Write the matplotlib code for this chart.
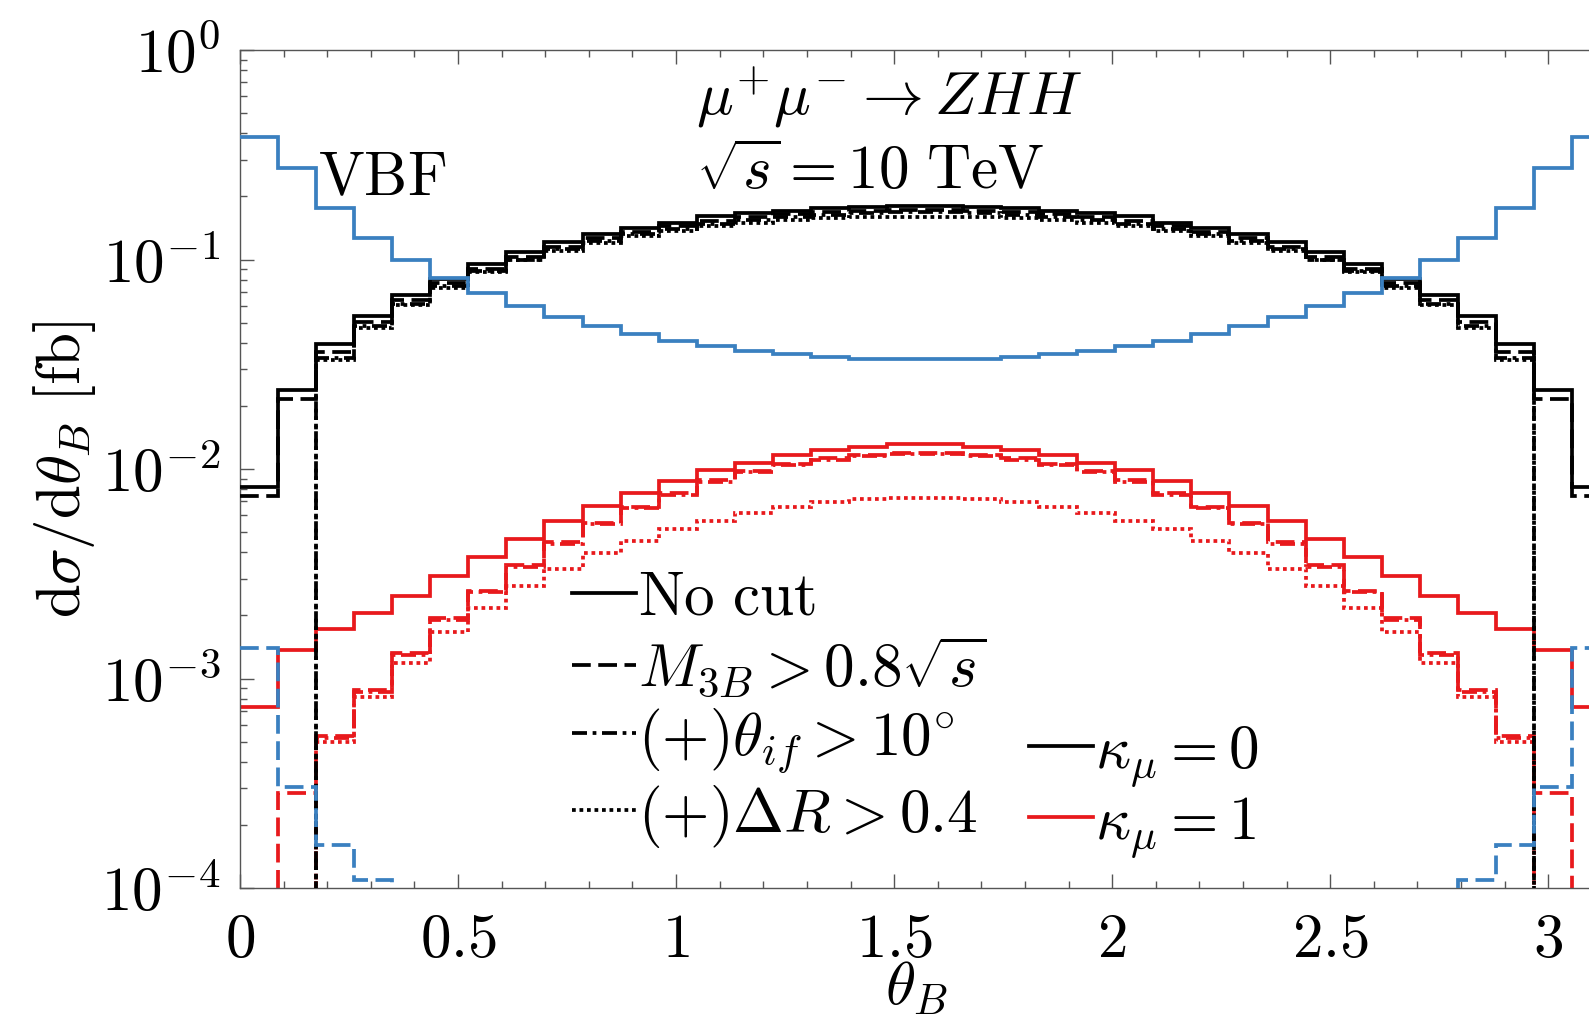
import matplotlib
matplotlib.use('Agg')
import matplotlib.pyplot as plt
import numpy as np
from matplotlib.lines import Line2D
from matplotlib.ticker import MultipleLocator, LogLocator, NullFormatter

plt.rcParams['mathtext.fontset'] = 'cm'
plt.rcParams['font.family'] = 'serif'
plt.rcParams['font.serif'] = ['DejaVu Serif']

# 36 bins of 5 degrees between 0 and pi
n_bins = 36
edges = np.linspace(0, np.pi, n_bins + 1)

# kappa_mu = 0 (black)
black_nocut = [0.0082, 0.0237, 0.0395, 0.0537, 0.068, 0.081, 0.095, 0.108, 0.121,
               0.132, 0.142, 0.150, 0.161, 0.167, 0.171, 0.176, 0.179, 0.181,
               0.181, 0.179, 0.176, 0.171, 0.167, 0.161, 0.150, 0.142, 0.132,
               0.121, 0.108, 0.095, 0.081, 0.068, 0.0537, 0.0395, 0.0237, 0.0082]
black_m3b = [0.0074, 0.0216, 0.0363, 0.0505, 0.064, 0.077, 0.0905, 0.103, 0.115,
             0.126, 0.136, 0.144, 0.153, 0.159, 0.164, 0.168, 0.171, 0.173,
             0.173, 0.171, 0.168, 0.164, 0.159, 0.153, 0.144, 0.136, 0.126,
             0.115, 0.103, 0.0905, 0.077, 0.064, 0.0505, 0.0363, 0.0216, 0.0074]
black_thif = [0, 0, 0.0340, 0.0480, 0.0615, 0.0745, 0.088, 0.100, 0.112,
              0.122, 0.132, 0.140, 0.148, 0.154, 0.159, 0.163, 0.166, 0.168,
              0.168, 0.166, 0.163, 0.159, 0.154, 0.148, 0.140, 0.132, 0.122,
              0.112, 0.100, 0.088, 0.0745, 0.0615, 0.0480, 0.0340, 0, 0]
black_dr = [0, 0, 0.0331, 0.0469, 0.0605, 0.0735, 0.087, 0.099, 0.110,
            0.120, 0.129, 0.137, 0.144, 0.150, 0.154, 0.157, 0.159, 0.160,
            0.160, 0.159, 0.157, 0.154, 0.150, 0.144, 0.137, 0.129, 0.120,
            0.110, 0.099, 0.087, 0.0735, 0.0605, 0.0469, 0.0331, 0, 0]

# kappa_mu = 1 (red)
red_nocut = [7.3e-4, 1.37e-3, 1.72e-3, 2.05e-3, 2.48e-3, 3.08e-3, 3.79e-3, 4.61e-3, 5.62e-3,
             6.66e-3, 7.66e-3, 8.77e-3, 9.85e-3, 1.07e-2, 1.167e-2, 1.23e-2, 1.277e-2, 1.316e-2,
             1.316e-2, 1.277e-2, 1.23e-2, 1.167e-2, 1.07e-2, 9.85e-3, 8.77e-3, 7.66e-3, 6.66e-3,
             5.62e-3, 4.61e-3, 3.79e-3, 3.08e-3, 2.48e-3, 2.05e-3, 1.72e-3, 1.37e-3, 7.3e-4]
red_m3b = [0, 2.84e-4, 5.3e-4, 8.8e-4, 1.32e-3, 1.94e-3, 2.63e-3, 3.48e-3, 4.47e-3,
           5.54e-3, 6.6e-3, 7.65e-3, 8.86e-3, 9.8e-3, 1.056e-2, 1.125e-2, 1.167e-2, 1.197e-2,
           1.197e-2, 1.167e-2, 1.125e-2, 1.056e-2, 9.8e-3, 8.86e-3, 7.65e-3, 6.6e-3, 5.54e-3,
           4.47e-3, 3.48e-3, 2.63e-3, 1.94e-3, 1.32e-3, 8.8e-4, 5.3e-4, 2.84e-4, 0]
red_thif = [0, 0, 5.2e-4, 8.6e-4, 1.29e-3, 1.9e-3, 2.58e-3, 3.42e-3, 4.4e-3,
            5.45e-3, 6.5e-3, 7.55e-3, 8.7e-3, 9.65e-3, 1.04e-2, 1.11e-2, 1.15e-2, 1.18e-2,
            1.18e-2, 1.15e-2, 1.11e-2, 1.04e-2, 9.65e-3, 8.7e-3, 7.55e-3, 6.5e-3, 5.45e-3,
            4.4e-3, 3.42e-3, 2.58e-3, 1.9e-3, 1.29e-3, 8.6e-4, 5.2e-4, 0, 0]
red_dr = [0, 0, 5.0e-4, 8.2e-4, 1.19e-3, 1.67e-3, 2.16e-3, 2.75e-3, 3.32e-3,
          3.96e-3, 4.53e-3, 5.15e-3, 5.67e-3, 6.14e-3, 6.6e-3, 6.95e-3, 7.16e-3, 7.24e-3,
          7.24e-3, 7.16e-3, 6.95e-3, 6.6e-3, 6.14e-3, 5.67e-3, 5.15e-3, 4.53e-3, 3.96e-3,
          3.32e-3, 2.75e-3, 2.16e-3, 1.67e-3, 1.19e-3, 8.2e-4, 5.0e-4, 0, 0]

# VBF (blue)
vbf_nocut = [0.384, 0.274, 0.176, 0.126, 0.100, 0.0817, 0.069, 0.060, 0.0532,
             0.0481, 0.0441, 0.0410, 0.0386, 0.0367, 0.0354, 0.0344, 0.0336, 0.0334,
             0.0334, 0.0336, 0.0344, 0.0354, 0.0367, 0.0386, 0.0410, 0.0441, 0.0481,
             0.0532, 0.060, 0.069, 0.0817, 0.100, 0.126, 0.176, 0.274, 0.384]
vbf_m3b = [1.4e-3, 3.05e-4, 1.6e-4, 1.09e-4, 0, 0, 0, 0, 0,
           0, 0, 0, 0, 0, 0, 0, 0, 0,
           0, 0, 0, 0, 0, 0, 0, 0, 0,
           0, 0, 0, 0, 0, 1.09e-4, 1.6e-4, 3.05e-4, 1.4e-3]

xticks = [0, 0.5, 1, 1.5, 2, 2.5, 3]
xticklabels = [r'$0$', r'$0.5$', r'$1$', r'$1.5$', r'$2$', r'$2.5$', r'$3$']
yticks = [1e-4, 1e-3, 1e-2, 1e-1, 1]
yticklabels = [r'$10^{-4}$', r'$10^{-3}$', r'$10^{-2}$', r'$10^{-1}$', r'$10^{0}$']

BLUE = '#3a80c0'
RED = '#e8191c'
LW = 2.7
FS = 44
DASHED = (0, (5, 2))
DASHDOT = (0, (4, 1.5, 1, 1.5))
DOTTED = (0, (1, 1))

fig = plt.figure(figsize=(15.89, 10.19), dpi=100)
# axes run past the right edge of the picture (up to pi)
ax = fig.add_axes([240 / 1589, 131 / 1019, 1370 / 1589, 838 / 1019])

styles = ['-', DASHED, DASHDOT, DOTTED]
for vals, ls in zip([red_nocut, red_m3b, red_thif, red_dr], styles):
    ax.stairs(vals, edges, baseline=None, color=RED, lw=LW, linestyle=ls, zorder=2)
for vals, ls in zip([black_nocut, black_m3b, black_thif, black_dr], styles):
    ax.stairs(vals, edges, baseline=None, color='black', lw=LW, linestyle=ls, zorder=3)
ax.stairs(vbf_nocut, edges, baseline=None, color=BLUE, lw=LW, linestyle='-', zorder=4)
ax.stairs(vbf_m3b, edges, baseline=None, color=BLUE, lw=LW, linestyle=DASHED, zorder=4)

ax.set_yscale('log')
ax.set_xlim(0, np.pi)
ax.set_ylim(1e-4, 1)

ax.set_xticks(xticks)
ax.set_xticklabels(xticklabels)
ax.xaxis.set_minor_locator(MultipleLocator(0.1))
ax.set_yticks(yticks)
ax.set_yticklabels(yticklabels)
ax.yaxis.set_minor_locator(LogLocator(base=10, subs=np.arange(2, 10), numticks=20))
ax.yaxis.set_minor_formatter(NullFormatter())

ax.tick_params(which='both', direction='in', top=True, right=True,
               color='#555555', width=1.0)
ax.tick_params(which='major', length=10, labelsize=FS)
ax.tick_params(axis='x', which='major', pad=16)
ax.tick_params(axis='y', which='major', pad=14)
ax.tick_params(which='minor', length=5)
for sp in ax.spines.values():
    sp.set_color('#555555')
    sp.set_linewidth(1.0)

ax.set_xlabel(r'$\theta_B$', fontsize=FS)
ax.xaxis.set_label_coords(0.494, -0.083)
ax.set_ylabel(r'$\mathrm{d}\sigma/\mathrm{d}\theta_B\ [\mathrm{fb}]$', fontsize=FS)
ax.yaxis.set_label_coords(-0.104, 0.5)

ax.text(0.333, 0.944, r'$\mu^{+}\mu^{-} \rightarrow ZHH$', transform=ax.transAxes,
        fontsize=FS, va='center', ha='left')
ax.text(0.333, 0.855, r'$\sqrt{s} = 10\ \mathrm{TeV}$', transform=ax.transAxes,
        fontsize=FS, va='center', ha='left')
ax.text(0.057, 0.847, r'$\mathrm{VBF}$', transform=ax.transAxes,
        fontsize=FS, va='center', ha='left')

h1 = [Line2D([], [], color='black', lw=LW, linestyle=ls) for ls in styles]
lab1 = [r'$\mathrm{No\ cut}$', r'$M_{3B} > 0.8\sqrt{s}$',
        r'$(+)\theta_{if} > 10^{\circ}$', r'$(+)\Delta R > 0.4$']
leg1 = ax.legend(h1, lab1, loc='upper left', bbox_to_anchor=(0.242, 0.382),
                 frameon=False, fontsize=FS, handlelength=1.05, handletextpad=0.03,
                 labelspacing=0.12, borderpad=0, borderaxespad=0)
ax.add_artist(leg1)

h2 = [Line2D([], [], color='black', lw=LW), Line2D([], [], color=RED, lw=LW)]
lab2 = [r'$\kappa_\mu = 0$', r'$\kappa_\mu = 1$']
ax.legend(h2, lab2, loc='upper left', bbox_to_anchor=(0.576, 0.2),
          frameon=False, fontsize=FS, handlelength=1.05, handletextpad=0.03,
          labelspacing=0.05, borderpad=0, borderaxespad=0)

fig.savefig('out.png', dpi=100)
